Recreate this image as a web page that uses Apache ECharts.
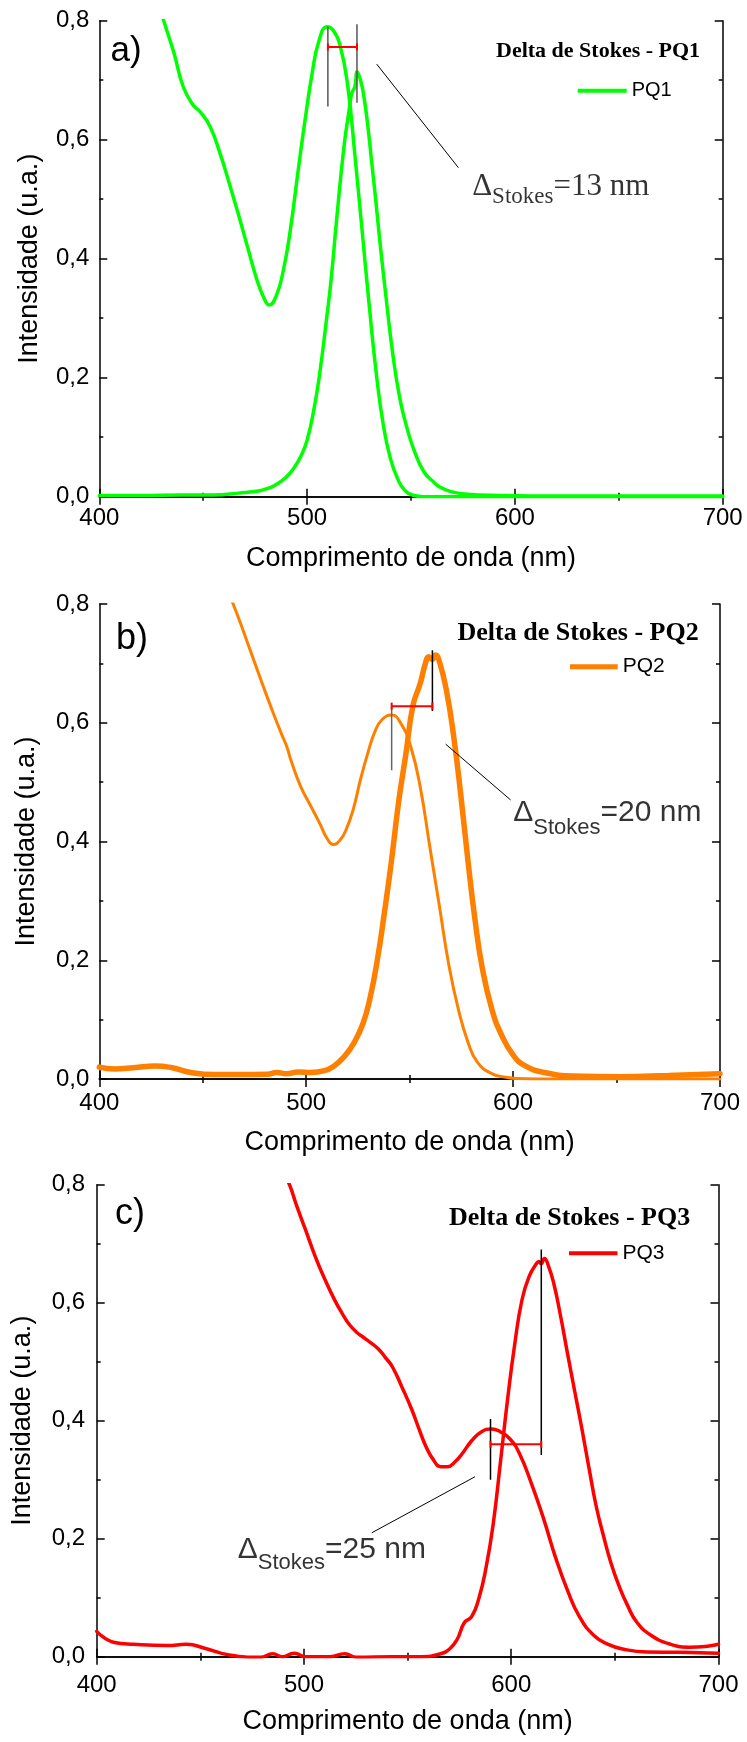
<!DOCTYPE html>
<html>
<head>
<meta charset="utf-8">
<script src="https://cdn.jsdelivr.net/npm/echarts@6/dist/echarts.min.js"></script>
<style>
html,body{margin:0;padding:0;background:#fff;}
#chart{width:747px;height:1742px;}
</style>
</head>
<body>
<div id="chart"></div>
<script>
// ---------------- DATA ----------------
const xTicks = [400, 500, 600, 700];
const yTicks = [0, 0.2, 0.4, 0.6, 0.8];
const seriesNames = ['PQ1', 'PQ2', 'PQ3'];
const headers = ['Delta de Stokes - PQ1', 'Delta de Stokes - PQ2', 'Delta de Stokes - PQ3'];
const panelTags = ['a)', 'b)', 'c)'];
const stokesShift = ['13 nm', '20 nm', '25 nm'];

// PQ1 absorption
const pq1AbsWl  = [428, 431, 436, 440.4, 445.2, 448.5, 453.3, 458.1, 462.1, 466.9, 471.4, 476, 479.5, 481.8, 485.2, 488.6, 492, 495.5, 498.9, 502.4, 505.8, 509.7, 512.7, 516.1, 519.5, 523, 526.4, 529.8, 533.3, 536.7, 540.1, 543.6, 547, 551.6, 556, 570, 620, 700];
const pq1AbsInt = [0.835, 0.80, 0.745, 0.689, 0.658, 0.647, 0.622, 0.577, 0.532, 0.475, 0.419, 0.363, 0.332, 0.322, 0.338, 0.381, 0.45, 0.543, 0.63, 0.711, 0.767, 0.79, 0.783, 0.755, 0.692, 0.574, 0.45, 0.325, 0.207, 0.12, 0.064, 0.03, 0.011, 0.002, 0.0, 0.0, 0.0, 0.0];
// PQ1 emission
const pq1EmWl  = [400, 420, 440, 455, 467, 477.3, 481.8, 485, 490, 494, 497, 500, 503.5, 506.3, 509.2, 511.5, 514.2, 517.7, 520.2, 521.5, 523, 524.1, 525.7, 527, 529, 531, 533, 535, 537.9, 541.3, 544.7, 548.2, 551.6, 556.2, 560.8, 564, 568.8, 576.8, 592.8, 620, 660, 700];
const pq1EmInt = [0.002, 0.002, 0.003, 0.003, 0.006, 0.010, 0.015, 0.02, 0.033, 0.05, 0.068, 0.095, 0.151, 0.213, 0.294, 0.363, 0.465, 0.587, 0.649, 0.678, 0.689, 0.714, 0.70, 0.68, 0.63, 0.565, 0.5, 0.43, 0.338, 0.238, 0.164, 0.114, 0.077, 0.042, 0.025, 0.016, 0.009, 0.004, 0.002, 0.001, 0.001, 0.001];

// PQ2 absorption
const pq2AbsWl  = [462, 464.7, 471.2, 477.6, 484.1, 488.2, 490.6, 492.8, 497.4, 502, 506.6, 510.1, 513.1, 516.3, 519.3, 522.8, 526.2, 529.7, 533.2, 536.6, 541.3, 545.9, 550.5, 555.1, 559.7, 564.3, 568.9, 573.5, 578.2, 582.8, 589.7, 596.6, 601.2, 620, 660, 700];
const pq2AbsInt = [0.82, 0.80, 0.739, 0.677, 0.616, 0.58, 0.56, 0.535, 0.492, 0.461, 0.43, 0.405, 0.395, 0.402, 0.42, 0.455, 0.504, 0.548, 0.585, 0.605, 0.613, 0.598, 0.56, 0.492, 0.392, 0.293, 0.193, 0.118, 0.062, 0.028, 0.009, 0.003, 0.001, 0.0, 0.0, 0.0];
// PQ2 emission
const pq2EmWl  = [400, 407.4, 416.6, 427, 435.1, 444.3, 455.8, 467.4, 481.2, 485.8, 490.5, 496.2, 502, 508.9, 513.5, 518.2, 522.8, 527.4, 530.9, 534.3, 537.8, 541.2, 544.7, 548.2, 551.6, 555.1, 557.4, 559.2, 560.9, 562.5, 564.3, 567.8, 571.2, 574.7, 578.2, 581.6, 585.1, 589.7, 594.3, 600.1, 605.9, 615.1, 628.9, 652, 675.1, 700];
const pq2EmInt = [0.02, 0.017, 0.019, 0.022, 0.019, 0.011, 0.0075, 0.0075, 0.008, 0.011, 0.009, 0.012, 0.011, 0.014, 0.022, 0.037, 0.059, 0.093, 0.137, 0.199, 0.28, 0.367, 0.467, 0.548, 0.629, 0.666, 0.697, 0.711, 0.707, 0.714, 0.704, 0.654, 0.579, 0.479, 0.367, 0.268, 0.187, 0.118, 0.075, 0.04, 0.022, 0.011, 0.005, 0.004, 0.006, 0.009];

// PQ3 absorption
const pq3AbsWl  = [490, 493, 496.5, 500.6, 505.7, 510.3, 514.9, 518.4, 521.9, 525.4, 528.8, 532.3, 535.8, 539.3, 542.7, 547.4, 552, 555.4, 558.9, 562.4, 565.9, 569.3, 572.8, 576.3, 580.9, 585.5, 590.6, 594.8, 599.4, 604, 609.8, 615.6, 621.4, 627.2, 632.9, 639.9, 646.8, 653.8, 665.3, 681.5, 700];
const pq3AbsInt = [0.82, 0.80, 0.764, 0.725, 0.676, 0.638, 0.604, 0.582, 0.563, 0.55, 0.541, 0.532, 0.522, 0.507, 0.491, 0.456, 0.419, 0.387, 0.356, 0.334, 0.322, 0.322, 0.33, 0.344, 0.366, 0.381, 0.386, 0.381, 0.369, 0.344, 0.293, 0.234, 0.168, 0.112, 0.068, 0.036, 0.021, 0.013, 0.008, 0.0075, 0.006];
// PQ3 emission
const pq3EmWl  = [400, 408.6, 417.8, 434, 443.3, 452.5, 464, 479, 484.9, 489.5, 495.3, 501, 512.7, 519.6, 525.4, 542.7, 556.6, 565.9, 570.5, 574, 577.4, 580.9, 584.4, 587.8, 591.3, 594.8, 598.2, 601.7, 605.2, 608.7, 612.1, 613.3, 614.4, 616, 617.9, 620.5, 623.5, 627.1, 630.5, 634, 637.5, 641, 644.5, 648, 652, 656.1, 660.7, 667.6, 676.9, 686.1, 695.4, 700];
const pq3EmInt = [0.043, 0.024, 0.021, 0.019, 0.021, 0.014, 0.003, -0.001, 0.005, 0.0, 0.006, 0.0, 0.0, 0.005, -0.001, 0.0, 0.0, 0.005, 0.014, 0.03, 0.058, 0.068, 0.099, 0.15, 0.225, 0.33, 0.435, 0.53, 0.605, 0.645, 0.666, 0.67, 0.666, 0.675, 0.663, 0.633, 0.583, 0.515, 0.452, 0.388, 0.32, 0.255, 0.205, 0.16, 0.12, 0.087, 0.058, 0.036, 0.021, 0.016, 0.018, 0.021];

// Stokes-shift annotations (data units: nm, u.a.)
const peakAbs   = [510, 541.3, 590];     // absorption maxima
const peakEm    = [524, 561, 614.5];     // emission maxima
const absMarkY  = [[0.656, 0.79], [0.52, 0.627], [0.30, 0.403]];
const emMarkY   = [[0.662, 0.794], [0.62, 0.722], [0.342, 0.69]];
const barY      = [0.756, 0.628, 0.36];
const pointerA  = [[533.5, 0.727], [567.4, 0.564], [582.5, 0.305]];
const pointerB  = [[572.8, 0.553], [598.8, 0.47], [532.7, 0.21]];
const labelAt   = [[579.2, 0.521], [599.8, 0.448], [467.8, 0.1815]];

// ---------------- LAYOUT / STYLE ----------------
const SANS = '"Liberation Sans", Arial, sans-serif';
const SERIF = '"Liberation Serif", "Times New Roman", serif';
const colors = ['#00ff00', '#ff8000', '#ff0000'];
const layout = [
  {grid:{left:99.3, top:20.7, width:623.4, height:476}, xm:10, ym:10, xg:48, yg:56,
   tag:{left:110.6, top:33.7, size:35}, head:{left:496, top:40, size:22},
   leg:{left:577.7, top:80.7, w:49, h:4, size:20},
   absW:3.5, emW:3.5, dFont:SERIF, dSize:31, sSize:23, lh:43,
   absMarkColor:'#555', emMarkColor:'#555'},
  {grid:{left:99.3, top:604, width:620.7, height:475}, xm:12.5, ym:10, xg:50.5, yg:59,
   tag:{left:116, top:621.2, size:36}, head:{left:457.5, top:620.5, size:26},
   leg:{left:570, top:656.2, w:47.7, h:5, size:21},
   absW:3, emW:5.5, dFont:SANS, dSize:30, sSize:22, lh:51,
   absMarkColor:'#666', emMarkColor:'#000'},
  {grid:{left:96.7, top:1184.7, width:621.8, height:472}, xm:16.3, ym:11.7, xg:51.8, yg:61,
   tag:{left:115, top:1196.5, size:36}, head:{left:449, top:1205.6, size:26},
   leg:{left:569, top:1242.8, w:48.5, h:4, size:21},
   absW:3.5, emW:3.5, dFont:SANS, dSize:30, sSize:22, lh:49,
   absMarkColor:'#000', emMarkColor:'#000'}
];

const zip = (a, b) => a.map((v, i) => [v, b[i]]);
const absData = [zip(pq1AbsWl, pq1AbsInt), zip(pq2AbsWl, pq2AbsInt), zip(pq3AbsWl, pq3AbsInt)];
const emData  = [zip(pq1EmWl, pq1EmInt), zip(pq2EmWl, pq2EmInt), zip(pq3EmWl, pq3EmInt)];

const grids = [], xAxes = [], yAxes = [], series = [], titles = [], legends = [];
const axisLine = {show:true, lineStyle:{color:'#000', width:1.5}};
const tickStyle = {color:'#000', width:1.5};

layout.forEach((L, i) => {
  grids.push(Object.assign({outerBoundsMode:'none', containLabel:false}, L.grid));
  const xMain = xAxes.length, yMain = yAxes.length;
  const xBase = {type:'value', gridIndex:i, min:xTicks[0], max:xTicks[xTicks.length-1], interval:xTicks[1]-xTicks[0],
    axisLine, splitLine:{show:false},
    axisTick:{show:true, inside:true, length:8, lineStyle:tickStyle},
    minorTick:{show:true, splitNumber:2, length:4, lineStyle:tickStyle}};
  const yBase = {type:'value', gridIndex:i, min:yTicks[0], max:yTicks[yTicks.length-1], interval:yTicks[1]-yTicks[0],
    axisLine, splitLine:{show:false},
    axisTick:{show:true, inside:true, length:8, lineStyle:tickStyle},
    minorTick:{show:true, splitNumber:2, length:4, lineStyle:tickStyle}};
  xAxes.push(Object.assign({}, xBase, {position:'bottom',
    name:'Comprimento de onda (nm)', nameLocation:'middle', nameGap:L.xg, nameMoveOverlap:false,
    nameTextStyle:{fontFamily:SANS, fontSize:27, color:'#000'},
    axisLabel:{show:true, margin:L.xm, fontFamily:SANS, fontSize:24, color:'#000', hideOverlap:false}}));
  xAxes.push(Object.assign({}, xBase, {position:'top', axisLabel:{show:false}}));
  yAxes.push(Object.assign({}, yBase, {position:'left',
    name:'Intensidade (u.a.)', nameLocation:'middle', nameRotate:90, nameGap:L.yg, nameMoveOverlap:false,
    nameTextStyle:{fontFamily:SANS, fontSize:27, color:'#000'},
    axisLabel:{show:true, margin:L.ym, fontFamily:SANS, fontSize:24, color:'#000', hideOverlap:false,
      formatter:v => v.toFixed(1).replace('.', ',')}}));
  yAxes.push(Object.assign({}, yBase, {position:'right', axisLabel:{show:false}}));

  const ax = {xAxisIndex:xMain, yAxisIndex:yMain};
  const c = colors[i];
  series.push(Object.assign({type:'line', name:seriesNames[i], data:absData[i], showSymbol:false, symbol:'none',
    smooth:0.5, clip:true, color:c, itemStyle:{color:c},
    lineStyle:{color:c, width:L.absW, join:'round', cap:'round'}, silent:true, z:3}, ax));
  series.push(Object.assign({type:'line', name:seriesNames[i], data:emData[i], showSymbol:false, symbol:'none',
    smooth:0.5, clip:true, color:c, itemStyle:{color:c},
    lineStyle:{color:c, width:L.emW, join:'round', cap:'round'}, silent:true, z:3}, ax));
  // peak markers
  series.push(Object.assign({type:'line', name:'m-abs-'+i, data:[[peakAbs[i], absMarkY[i][0]], [peakAbs[i], absMarkY[i][1]]],
    symbol:'none', lineStyle:{color:L.absMarkColor, width:1.5}, silent:true, z:5}, ax));
  series.push(Object.assign({type:'line', name:'m-em-'+i, data:[[peakEm[i], emMarkY[i][0]], [peakEm[i], emMarkY[i][1]]],
    symbol:'none', lineStyle:{color:L.emMarkColor, width:1.5}, silent:true, z:5}, ax));
  // red shift bar with end caps
  series.push(Object.assign({type:'line', name:'m-bar-'+i, data:[[peakAbs[i], barY[i]], [peakEm[i], barY[i]]],
    symbol:'rect', symbolSize:[2, 7], showSymbol:true, itemStyle:{color:'#ff0000'},
    lineStyle:{color:'#ff0000', width:2}, silent:true, z:6}, ax));
  // pointer line
  series.push(Object.assign({type:'line', name:'m-ptr-'+i, data:[pointerA[i], pointerB[i]],
    symbol:'none', lineStyle:{color:'#000', width:1}, silent:true, z:5}, ax));
  // Stokes label
  series.push(Object.assign({type:'scatter', name:'m-lbl-'+i, data:[labelAt[i]], symbolSize:1,
    itemStyle:{color:'rgba(0,0,0,0)'}, silent:true, z:7,
    label:{show:true, position:'right', distance:0,
      formatter:'{d|\u0394}{s|Stokes}{n|=' + stokesShift[i] + '}',
      rich:{
        d:{fontFamily:L.dFont, fontSize:L.dSize, color:'#000', lineHeight:L.lh, verticalAlign:'middle'},
        s:{fontFamily:L.dFont, fontSize:L.sSize, color:'#000', lineHeight:L.sSize, verticalAlign:'bottom'},
        n:{fontFamily:L.dFont, fontSize:L.dSize, color:'#000', lineHeight:L.lh, verticalAlign:'middle'}
      }}}, ax));

  titles.push({text:panelTags[i], left:L.tag.left, top:L.tag.top, padding:0,
    textStyle:{fontFamily:SANS, fontSize:L.tag.size, fontWeight:'normal', color:'#000'}});
  titles.push({text:headers[i], left:L.head.left, top:L.head.top, padding:0,
    textStyle:{fontFamily:SERIF, fontSize:L.head.size, fontWeight:'bold', color:'#000'}});
  legends.push({data:[seriesNames[i]], left:L.leg.left, top:L.leg.top, padding:0, orient:'horizontal',
    icon:'rect', itemWidth:L.leg.w, itemHeight:L.leg.h, selectedMode:false,
    textStyle:{fontFamily:SANS, fontSize:L.leg.size, color:'#000'}});
});

const chart = echarts.init(document.getElementById('chart'), null, {renderer:'canvas'});
chart.setOption({
  animation:false,
  backgroundColor:'#fff',
  title:titles,
  legend:legends,
  grid:grids,
  xAxis:xAxes,
  yAxis:yAxes,
  series:series
});
</script>
</body>
</html>
